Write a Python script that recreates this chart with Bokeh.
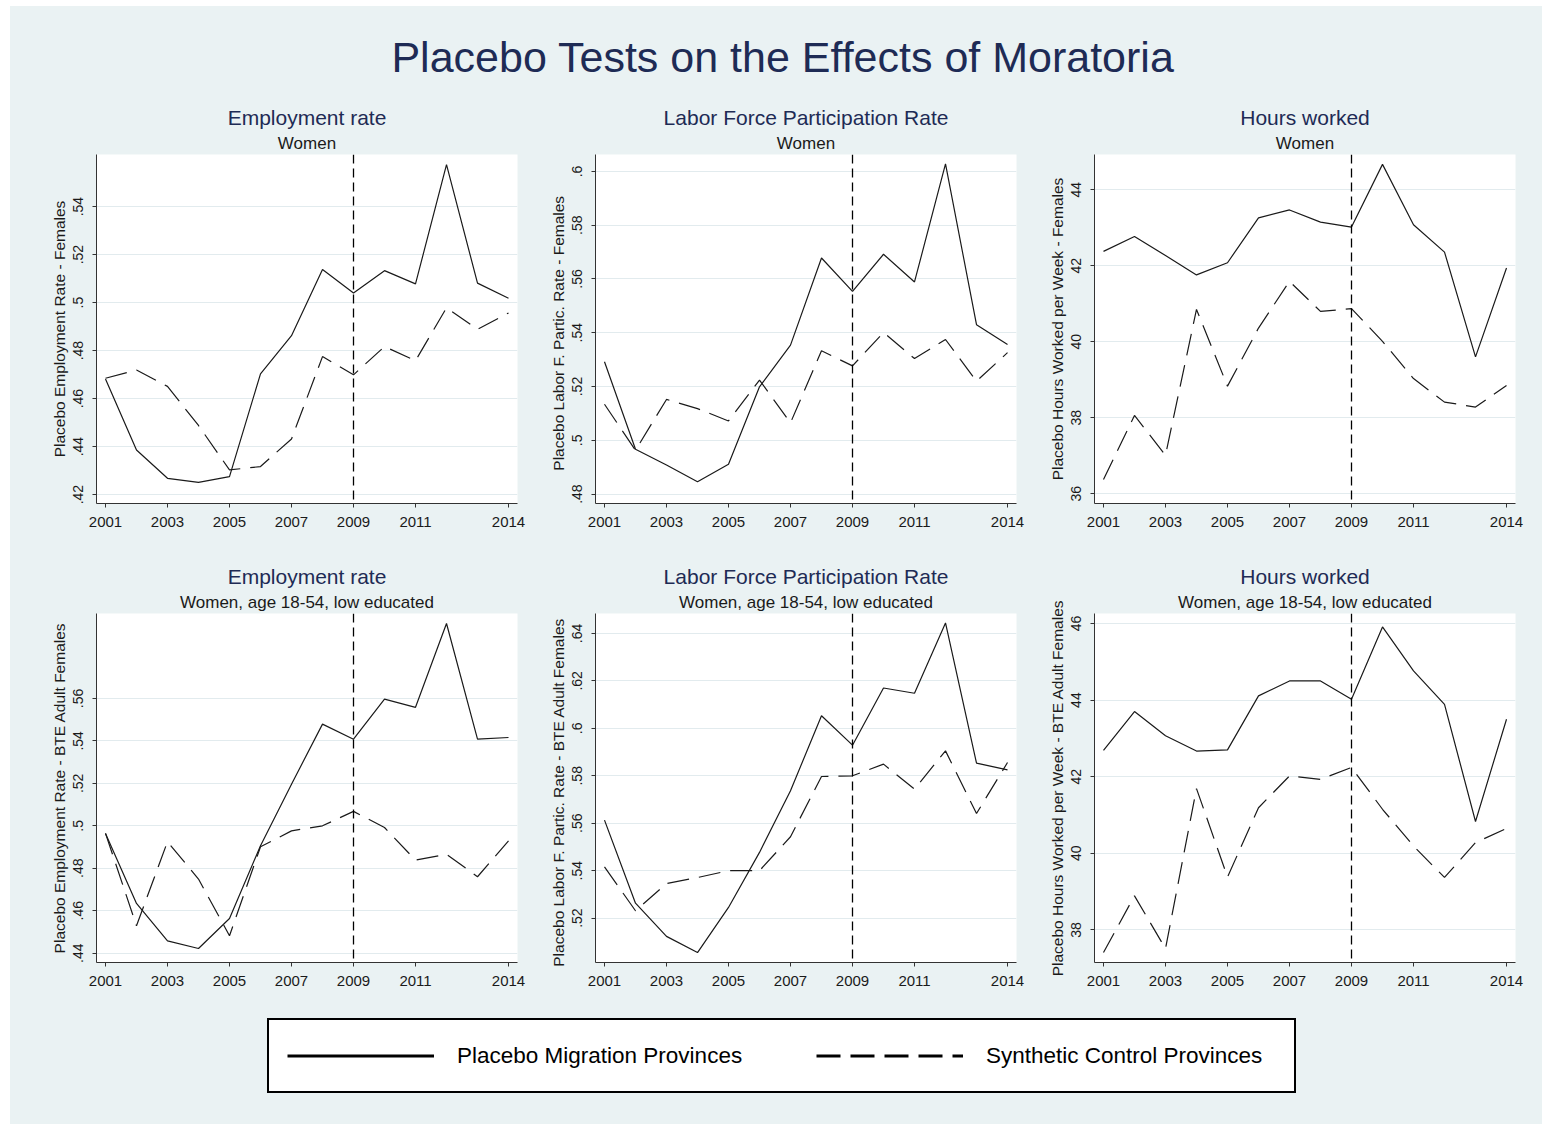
from bokeh.plotting import figure
from bokeh.models import Range1d, FixedTicker, Span, Title, Legend, LegendItem, Label, Spacer
from bokeh.layouts import column, row
from bokeh.embed import file_html
from bokeh.resources import INLINE

# ---------------- data ----------------
years = list(range(2001, 2015))
x_ticks = [2001, 2003, 2005, 2007, 2009, 2011, 2014]
treatment_year = 2009

emp_women_placebo = [0.4682, 0.4386, 0.4268, 0.4251, 0.4275, 0.4703, 0.4862, 0.5138, 0.5040, 0.5133, 0.5078, 0.5575, 0.5081, 0.5018]
emp_women_synth = [0.4685, 0.4719, 0.4651, 0.4488, 0.4303, 0.4317, 0.4432, 0.4775, 0.4699, 0.4817, 0.4758, 0.4978, 0.4889, 0.4957]

lfp_women_placebo = [0.5292, 0.4967, 0.4908, 0.4846, 0.4911, 0.5199, 0.5354, 0.5678, 0.5554, 0.5692, 0.5589, 0.6028, 0.5430, 0.5356]
lfp_women_synth = [0.5134, 0.4963, 0.5152, 0.5118, 0.5072, 0.5224, 0.5065, 0.5333, 0.5277, 0.5401, 0.5304, 0.5375, 0.5220, 0.5326]

hours_women_placebo = [42.38, 42.77, 42.27, 41.76, 42.08, 43.26, 43.47, 43.15, 43.02, 44.67, 43.08, 42.36, 39.60, 41.94]
hours_women_synth = [36.37, 38.06, 37.01, 40.85, 38.83, 40.36, 41.59, 40.80, 40.87, 40.01, 39.03, 38.41, 38.28, 38.85]

emp_low_placebo = [0.4964, 0.4634, 0.4458, 0.4422, 0.4563, 0.4906, 0.5196, 0.5479, 0.5408, 0.5597, 0.5558, 0.5953, 0.5408, 0.5416]
emp_low_synth = [0.4964, 0.4529, 0.4925, 0.4749, 0.4482, 0.4901, 0.4976, 0.5000, 0.5068, 0.4992, 0.4838, 0.4866, 0.4760, 0.4929]

lfp_low_placebo = [0.5613, 0.5263, 0.5123, 0.5055, 0.5245, 0.5477, 0.5737, 0.6053, 0.5929, 0.6170, 0.6148, 0.6444, 0.5853, 0.5825]
lfp_low_synth = [0.5416, 0.5231, 0.5346, 0.5371, 0.5400, 0.5400, 0.5543, 0.5797, 0.5800, 0.5849, 0.5744, 0.5905, 0.5641, 0.5856]

hours_low_placebo = [42.69, 43.70, 43.07, 42.67, 42.70, 44.11, 44.50, 44.50, 44.02, 45.91, 44.76, 43.89, 40.83, 43.50]
hours_low_synth = [37.41, 38.89, 37.51, 41.69, 39.38, 41.19, 42.02, 41.93, 42.24, 41.15, 40.19, 39.37, 40.28, 40.65]

ticks_emp_women = [0.42, 0.44, 0.46, 0.48, 0.50, 0.52, 0.54]
labels_emp_women = [".42", ".44", ".46", ".48", ".5", ".52", ".54"]
ticks_lfp_women = [0.48, 0.50, 0.52, 0.54, 0.56, 0.58, 0.60]
labels_lfp_women = [".48", ".5", ".52", ".54", ".56", ".58", ".6"]
ticks_hours_women = [36, 38, 40, 42, 44]
labels_hours_women = ["36", "38", "40", "42", "44"]
ticks_emp_low = [0.44, 0.46, 0.48, 0.50, 0.52, 0.54, 0.56]
labels_emp_low = [".44", ".46", ".48", ".5", ".52", ".54", ".56"]
ticks_lfp_low = [0.52, 0.54, 0.56, 0.58, 0.60, 0.62, 0.64]
labels_lfp_low = [".52", ".54", ".56", ".58", ".6", ".62", ".64"]
ticks_hours_low = [38, 40, 42, 44, 46]
labels_hours_low = ["38", "40", "42", "44", "46"]

main_title = "Placebo Tests on the Effects of Moratoria"
legend_labels = ["Placebo Migration Provinces", "Synthetic Control Provinces"]

# ---------------- style ----------------
BG = "#EAF2F3"
GRID = "#E2EBEE"
NAVY = "#1E2B55"
INK = "#1a1a1a"
FONT = "Liberation Sans"
NAN = float("nan")


def make_panel(title, subtitle, ylabel, placebo, synth, ylim, yticks, ylabels):
    p = figure(width=499, height=459,
               x_range=Range1d(2000.71, 2014.29), y_range=Range1d(*ylim),
               output_backend="svg", toolbar_location=None,
               min_border_left=60, min_border_right=18,
               min_border_top=60, min_border_bottom=50)
    p.background_fill_color = "white"
    p.border_fill_color = BG
    p.outline_line_color = None

    p.add_layout(Title(text=subtitle, align="center", text_font=FONT,
                       text_font_size="17px", text_font_style="normal",
                       text_color=INK, standoff=3), "above")
    p.add_layout(Title(text=title, align="center", text_font=FONT,
                       text_font_size="21px", text_font_style="normal",
                       text_color=NAVY, standoff=3), "above")

    p.line(years, placebo, line_color=INK, line_width=1.2)
    p.line(years, synth, line_color=INK, line_width=1.2, line_dash="22 10")
    p.add_layout(Span(location=treatment_year, dimension="height",
                      line_color="black", line_width=1.3, line_dash="9 5"))

    p.xaxis.ticker = FixedTicker(ticks=x_ticks)
    p.yaxis.ticker = FixedTicker(ticks=yticks)
    p.yaxis.major_label_overrides = {t: l for t, l in zip(yticks, ylabels)}
    p.yaxis.major_label_orientation = "vertical"
    p.yaxis.axis_label = ylabel
    p.yaxis.axis_label_text_font = FONT
    p.yaxis.axis_label_text_font_size = "15.5px"
    p.yaxis.axis_label_text_font_style = "normal"
    p.yaxis.axis_label_text_color = INK
    p.yaxis.axis_label_standoff = 3
    for ax in (p.xaxis, p.yaxis):
        ax.axis_line_color = "#333333"
        ax.axis_line_width = 1
        ax.major_tick_line_color = "#333333"
        ax.major_tick_out = 4
        ax.major_tick_in = 0
        ax.minor_tick_line_color = None
        ax.major_label_text_font = FONT
        ax.major_label_text_color = INK
    p.xaxis.major_label_text_font_size = "15px"
    p.yaxis.major_label_text_font_size = "14px"
    p.xaxis.major_label_standoff = 9
    p.yaxis.major_label_standoff = 9
    p.xgrid.grid_line_color = None
    p.ygrid.grid_line_color = GRID
    p.ygrid.grid_line_width = 1.2
    return p


panels_top = [
    make_panel("Employment rate", "Women", "Placebo Employment Rate - Females",
               emp_women_placebo, emp_women_synth, (0.4163, 0.5617),
               ticks_emp_women, labels_emp_women),
    make_panel("Labor Force Participation Rate", "Women",
               "Placebo Labor F.  Partic.  Rate - Females",
               lfp_women_placebo, lfp_women_synth, (0.4765, 0.6063),
               ticks_lfp_women, labels_lfp_women),
    make_panel("Hours worked", "Women", "Placebo Hours Worked per Week - Females",
               hours_women_placebo, hours_women_synth, (35.74, 44.93),
               ticks_hours_women, labels_hours_women),
]
sub_low = "Women, age 18-54, low educated"
panels_bottom = [
    make_panel("Employment rate", sub_low, "Placebo Employment Rate - BTE Adult Females",
               emp_low_placebo, emp_low_synth, (0.4356, 0.6000),
               ticks_emp_low, labels_emp_low),
    make_panel("Labor Force Participation Rate", sub_low,
               "Placebo Labor F.  Partic.  Rate - BTE Adult Females",
               lfp_low_placebo, lfp_low_synth, (0.5013, 0.6484),
               ticks_lfp_low, labels_lfp_low),
    make_panel("Hours worked", sub_low, "Placebo Hours Worked per Week - BTE Adult Females",
               hours_low_placebo, hours_low_synth, (37.15, 46.26),
               ticks_hours_low, labels_hours_low),
]

# ---------------- main title ----------------
tf = figure(width=1532, height=88, x_range=Range1d(0, 1532), y_range=Range1d(0, 88),
            output_backend="svg", toolbar_location=None,
            x_axis_type=None, y_axis_type=None, min_border=0)
tf.background_fill_color = BG
tf.border_fill_color = BG
tf.outline_line_color = None
tf.grid.grid_line_color = None
tf.add_layout(Label(x=772.5, y=38, text=main_title, text_align="center",
                    text_baseline="middle", text_font=FONT, text_font_size="43px",
                    text_color=NAVY))

# ---------------- legend ----------------
lf = figure(width=1532, height=112, x_range=Range1d(0, 1), y_range=Range1d(0, 1),
            output_backend="svg", toolbar_location=None,
            x_axis_type=None, y_axis_type=None, min_border=0)
lf.background_fill_color = BG
lf.border_fill_color = BG
lf.outline_line_color = None
lf.grid.grid_line_color = None
r_solid = lf.line([0, 1], [NAN, NAN], line_color="black", line_width=3)
r_dash = lf.line([0, 1], [NAN, NAN], line_color="black", line_width=3, line_dash="24 10")
leg = Legend(items=[LegendItem(label=legend_labels[0], renderers=[r_solid]),
                    LegendItem(label=legend_labels[1], renderers=[r_dash])],
             orientation="horizontal", location=(257, 31),
             glyph_width=147, glyph_height=35, label_standoff=23, label_width=290,
             spacing=69, padding=18, margin=0,
             label_text_font=FONT, label_text_font_size="22.5px", label_text_color="black",
             border_line_color="black", border_line_width=2.5, border_line_alpha=1,
             background_fill_color="white", background_fill_alpha=1)
lf.add_layout(leg)

chart = column(tf,
               row(Spacer(width=26, height=459), *panels_top),
               row(Spacer(width=26, height=459), *panels_bottom),
               lf,
               width=1532, height=1118,
               styles={"background-color": BG})

root = column(Spacer(width=1542, height=6),
              row(Spacer(width=10, height=1118), chart))

open("out.html", "w").write(file_html(root, INLINE, title="Placebo Tests on the Effects of Moratoria"))
